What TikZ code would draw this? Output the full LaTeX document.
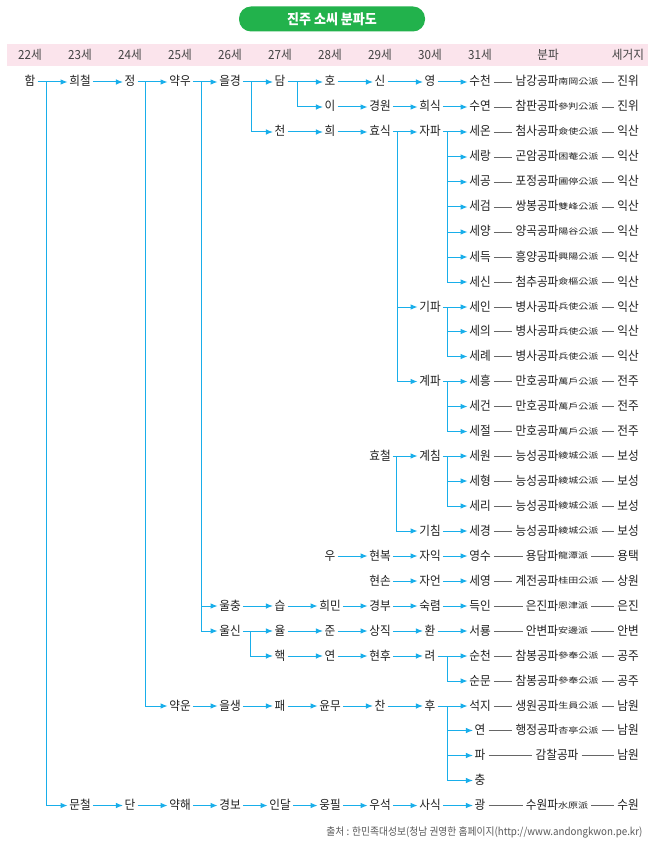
\documentclass[tikz,border=0pt]{standalone}
\usepackage{fontspec}
\setmainfont[FakeStretch=0.93]{Noto Sans CJK KR}
\newfontfamily\hanjafont[FakeStretch=1.25]{Noto Sans CJK KR}
\usepackage{tikz}
\usetikzlibrary{arrows, arrows.meta}
\definecolor{sky}{HTML}{18AEEA}
\definecolor{ink}{HTML}{222222}
\definecolor{band}{HTML}{FBE4EC}
\definecolor{leaf}{HTML}{22B24C}
\definecolor{rulegray}{HTML}{666666}
\newcommand{\hj}[1]{\raisebox{1.5pt}{\hanjafont\fontsize{8}{9}\selectfont #1}}
\tikzstyle{person} = [inner xsep=1.5pt, inner ysep=1pt, text height=10pt, text depth=2pt, text=ink]
\tikzstyle{head} = [text=ink!85]
\tikzstyle{arrow} = [line width=1pt, draw=sky, ->, >={Latex[length=7pt,width=5.5pt]}, shorten <=0.5pt]
\tikzstyle{link} = [line width=0.7pt, draw=rulegray, shorten <=1.5pt, shorten >=1.5pt]

\begin{document}
\begin{tikzpicture}[x=1pt, y=-1pt, node distance=50pt, font=\fontsize{12.5}{14}\selectfont]
\fill[white] (0,0) rectangle (650,850);
\useasboundingbox (0,0) rectangle (650,850);
\node (title) [fill=leaf, rounded corners=12pt, minimum width=186pt, minimum height=25pt, text=white, font=\fontsize{14}{16}\selectfont\bfseries] at (332,19) {진주 소씨 분파도};
\fill[band] (7,44) rectangle (648,66);
\node (g22) [head] at (30,55) {22세};
\node (g23) [head, right of=g22] {23세};
\node (g24) [head, right of=g23] {24세};
\node (g25) [head, right of=g24] {25세};
\node (g26) [head, right of=g25] {26세};
\node (g27) [head, right of=g26] {27세};
\node (g28) [head, right of=g27] {28세};
\node (g29) [head, right of=g28] {29세};
\node (g30) [head, right of=g29] {30세};
\node (g31) [head, right of=g30] {31세};
\node (gpa) [head] at (548,55) {분파};
\node (gji) [head] at (628,55) {세거지};

\node (ham) [person] at (30,82) {함};
\node (huicheol) [person, right of=ham] {희철};
\node (jeong) [person, right of=huicheol] {정};
\node (akwoo) [person, right of=jeong] {약우};
\node (eulgyeong) [person, right of=akwoo] {을경};
\node (dam) [person, right of=eulgyeong] {담};
\node (ho) [person, right of=dam] {호};
\node (sin) [person, right of=ho] {신};
\node (yeong) [person, right of=sin] {영};
\node (sucheon) [person, right of=yeong] {수천};
\node (pa0) [person, right of=sucheon, xshift=27pt] {남강공파\hj{南岡公派}};
\node (ji0) [person, right of=pa0, xshift=21pt] {진위};

\node (yi) [person] at (330,107) {이};
\node (gyeongwon) [person, right of=yi] {경원};
\node (huisik) [person, right of=gyeongwon] {희식};
\node (suyeon) [person, right of=huisik] {수연};
\node (pa1) [person, right of=suyeon, xshift=27pt] {참판공파\hj{參判公派}};
\node (ji1) [person, right of=pa1, xshift=21pt] {진위};

\node (cheon) [person] at (280,132) {천};
\node (hui) [person, right of=cheon] {희};
\node (hyosik) [person, right of=hui] {효식};
\node (japa) [person, right of=hyosik] {자파};
\node (seon) [person, right of=japa] {세온};
\node (pa2) [person, right of=seon, xshift=27pt] {첨사공파\hj{僉使公派}};
\node (ji2) [person, right of=pa2, xshift=21pt] {익산};

\node (serang) [person] at (480,157) {세랑};
\node (pa3) [person, right of=serang, xshift=27pt] {곤암공파\hj{困菴公派}};
\node (ji3) [person, right of=pa3, xshift=21pt] {익산};
\node (segong) [person] at (480,182) {세공};
\node (pa4) [person, right of=segong, xshift=27pt] {포정공파\hj{圃停公派}};
\node (ji4) [person, right of=pa4, xshift=21pt] {익산};
\node (segeom) [person] at (480,207) {세검};
\node (pa5) [person, right of=segeom, xshift=27pt] {쌍봉공파\hj{雙峰公派}};
\node (ji5) [person, right of=pa5, xshift=21pt] {익산};
\node (seyang) [person] at (480,232) {세양};
\node (pa6) [person, right of=seyang, xshift=27pt] {양곡공파\hj{陽谷公派}};
\node (ji6) [person, right of=pa6, xshift=21pt] {익산};
\node (sedeuk) [person] at (480,257) {세득};
\node (pa7) [person, right of=sedeuk, xshift=27pt] {흥양공파\hj{興陽公派}};
\node (ji7) [person, right of=pa7, xshift=21pt] {익산};
\node (sesin) [person] at (480,282) {세신};
\node (pa8) [person, right of=sesin, xshift=27pt] {첨추공파\hj{僉樞公派}};
\node (ji8) [person, right of=pa8, xshift=21pt] {익산};

\node (gipa) [person] at (430,307) {기파};
\node (sein) [person, right of=gipa] {세인};
\node (pa9) [person, right of=sein, xshift=27pt] {병사공파\hj{兵使公派}};
\node (ji9) [person, right of=pa9, xshift=21pt] {익산};
\node (seui) [person] at (480,331.5) {세의};
\node (pa10) [person, right of=seui, xshift=27pt] {병사공파\hj{兵使公派}};
\node (ji10) [person, right of=pa10, xshift=21pt] {익산};
\node (serye) [person] at (480,356.5) {세례};
\node (pa11) [person, right of=serye, xshift=27pt] {병사공파\hj{兵使公派}};
\node (ji11) [person, right of=pa11, xshift=21pt] {익산};

\node (gyepa) [person] at (430,381.5) {계파};
\node (seheung) [person, right of=gyepa] {세흥};
\node (pa12) [person, right of=seheung, xshift=27pt] {만호공파\hj{萬戶公派}};
\node (ji12) [person, right of=pa12, xshift=21pt] {전주};
\node (segeon) [person] at (480,406.5) {세건};
\node (pa13) [person, right of=segeon, xshift=27pt] {만호공파\hj{萬戶公派}};
\node (ji13) [person, right of=pa13, xshift=21pt] {전주};
\node (sejeol) [person] at (480,431.5) {세절};
\node (pa14) [person, right of=sejeol, xshift=27pt] {만호공파\hj{萬戶公派}};
\node (ji14) [person, right of=pa14, xshift=21pt] {전주};

\node (hyocheol) [person] at (380,456) {효철};
\node (gyechim) [person, right of=hyocheol] {계침};
\node (sewon) [person, right of=gyechim] {세원};
\node (pa15) [person, right of=sewon, xshift=27pt] {능성공파\hj{綾城公派}};
\node (ji15) [person, right of=pa15, xshift=21pt] {보성};
\node (sehyeong) [person] at (480,481) {세형};
\node (pa16) [person, right of=sehyeong, xshift=27pt] {능성공파\hj{綾城公派}};
\node (ji16) [person, right of=pa16, xshift=21pt] {보성};
\node (seri) [person] at (480,506) {세리};
\node (pa17) [person, right of=seri, xshift=27pt] {능성공파\hj{綾城公派}};
\node (ji17) [person, right of=pa17, xshift=21pt] {보성};
\node (gichim) [person] at (430,531) {기침};
\node (segyeong) [person, right of=gichim] {세경};
\node (pa18) [person, right of=segyeong, xshift=27pt] {능성공파\hj{綾城公派}};
\node (ji18) [person, right of=pa18, xshift=21pt] {보성};

\node (u) [person] at (330,556) {우};
\node (hyeonbok) [person, right of=u] {현복};
\node (jaik) [person, right of=hyeonbok] {자익};
\node (yeongsu) [person, right of=jaik] {영수};
\node (pa19) [person, right of=yeongsu, xshift=27pt] {용담파\hj{龍潭派}};
\node (ji19) [person, right of=pa19, xshift=21pt] {용택};

\node (hyeonson) [person] at (380,581) {현손};
\node (jaeon) [person, right of=hyeonson] {자언};
\node (seyeong) [person, right of=jaeon] {세영};
\node (pa20) [person, right of=seyeong, xshift=27pt] {계전공파\hj{桂田公派}};
\node (ji20) [person, right of=pa20, xshift=21pt] {상원};

\node (ulchung) [person] at (230,606) {울충};
\node (seup) [person, right of=ulchung] {습};
\node (huimin) [person, right of=seup] {희민};
\node (gyeongbu) [person, right of=huimin] {경부};
\node (sukryeom) [person, right of=gyeongbu] {숙렴};
\node (deugin) [person, right of=sukryeom] {득인};
\node (pa21) [person, right of=deugin, xshift=27pt] {은진파\hj{恩津派}};
\node (ji21) [person, right of=pa21, xshift=21pt] {은진};

\node (ulsin) [person] at (230,631) {울신};
\node (yul) [person, right of=ulsin] {율};
\node (jun) [person, right of=yul] {준};
\node (sangjik) [person, right of=jun] {상직};
\node (hwan) [person, right of=sangjik] {환};
\node (seoryong) [person, right of=hwan] {서룡};
\node (pa22) [person, right of=seoryong, xshift=27pt] {안변파\hj{安邊派}};
\node (ji22) [person, right of=pa22, xshift=21pt] {안변};

\node (haek) [person] at (280,656) {핵};
\node (yeon) [person, right of=haek] {연};
\node (hyeonhu) [person, right of=yeon] {현후};
\node (ryeo) [person, right of=hyeonhu] {려};
\node (suncheon) [person, right of=ryeo] {순천};
\node (pa23) [person, right of=suncheon, xshift=27pt] {참봉공파\hj{參奉公派}};
\node (ji23) [person, right of=pa23, xshift=21pt] {공주};
\node (sunmun) [person] at (480,681) {순문};
\node (pa24) [person, right of=sunmun, xshift=27pt] {참봉공파\hj{參奉公派}};
\node (ji24) [person, right of=pa24, xshift=21pt] {공주};

\node (akun) [person] at (180,706) {약운};
\node (eulsaeng) [person, right of=akun] {을생};
\node (pae) [person, right of=eulsaeng] {패};
\node (yunmu) [person, right of=pae] {윤무};
\node (chan) [person, right of=yunmu] {찬};
\node (hu) [person, right of=chan] {후};
\node (seokji) [person, right of=hu] {석지};
\node (pa25) [person, right of=seokji, xshift=27pt] {생원공파\hj{生員公派}};
\node (ji25) [person, right of=pa25, xshift=21pt] {남원};
\node (yeon2) [person] at (480,730.5) {연};
\node (pa26) [person, right of=yeon2, xshift=27pt] {행정공파\hj{杏亭公派}};
\node (ji26) [person, right of=pa26, xshift=21pt] {남원};
\node (pa) [person] at (480,755.5) {파};
\node (pa27) [person, right of=pa, xshift=27pt] {감찰공파};
\node (ji27) [person, right of=pa27, xshift=21pt] {남원};
\node (chung) [person] at (480,780.5) {충};

\node (muncheol) [person] at (80,805.5) {문철};
\node (dan) [person, right of=muncheol] {단};
\node (akhae) [person, right of=dan] {약해};
\node (gyeongbo) [person, right of=akhae] {경보};
\node (indal) [person, right of=gyeongbo] {인달};
\node (ungpil) [person, right of=indal] {웅필};
\node (useok) [person, right of=ungpil] {우석};
\node (sasik) [person, right of=useok] {사식};
\node (gwang) [person, right of=sasik] {광};
\node (pa29) [person, right of=gwang, xshift=27pt] {수원파\hj{水原派}};
\node (ji29) [person, right of=pa29, xshift=21pt] {수원};

\node (source) [anchor=east, text=ink!75, font=\fontsize{10.5}{12}\selectfont] at (646,832) {출처 : 한민족대성보(청남 권영한 홈페이지(http://www.andongkwon.pe.kr)};

\draw [arrow] (ham) -- (huicheol);
\draw [arrow] (huicheol) -- (jeong);
\draw [arrow] (jeong) -- (akwoo);
\draw [arrow] (akwoo) -- (eulgyeong);
\draw [arrow] (eulgyeong) -- (dam);
\draw [arrow] (dam) -- (ho);
\draw [arrow] (ho) -- (sin);
\draw [arrow] (sin) -- (yeong);
\draw [arrow] (yeong) -- (sucheon);
\draw [arrow] ([xshift=16pt]ham.center) |- (muncheol);
\draw [arrow] ([xshift=15pt]jeong.center) |- (akun);
\draw [arrow] ([xshift=21pt]akwoo.center) |- (ulchung);
\draw [arrow] ([xshift=21pt]akwoo.center) |- (ulsin);
\draw [arrow] ([xshift=21pt]eulgyeong.center) |- (cheon);
\draw [arrow] ([xshift=17pt]dam.center) |- (yi);

\draw [arrow] (yi) -- (gyeongwon);
\draw [arrow] (gyeongwon) -- (huisik);
\draw [arrow] (huisik) -- (suyeon);

\draw [arrow] (cheon) -- (hui);
\draw [arrow] (hui) -- (hyosik);
\draw [arrow] (hyosik) -- (japa);
\draw [arrow] (japa) -- (seon);
\draw [arrow] ([xshift=17pt]hyosik.center) |- (gipa);
\draw [arrow] ([xshift=17pt]hyosik.center) |- (gyepa);
\draw [arrow] ([xshift=17pt]japa.center) |- (serang);
\draw [arrow] ([xshift=17pt]japa.center) |- (segong);
\draw [arrow] ([xshift=17pt]japa.center) |- (segeom);
\draw [arrow] ([xshift=17pt]japa.center) |- (seyang);
\draw [arrow] ([xshift=17pt]japa.center) |- (sedeuk);
\draw [arrow] ([xshift=17pt]japa.center) |- (sesin);

\draw [arrow] (gipa) -- (sein);
\draw [arrow] ([xshift=17pt]gipa.center) |- (seui);
\draw [arrow] ([xshift=17pt]gipa.center) |- (serye);
\draw [arrow] (gyepa) -- (seheung);
\draw [arrow] ([xshift=17pt]gyepa.center) |- (segeon);
\draw [arrow] ([xshift=17pt]gyepa.center) |- (sejeol);

\draw [arrow] (hyocheol) -- (gyechim);
\draw [arrow] (gyechim) -- (sewon);
\draw [arrow] ([xshift=16pt]hyocheol.center) |- (gichim);
\draw [arrow] ([xshift=17pt]gyechim.center) |- (sehyeong);
\draw [arrow] ([xshift=17pt]gyechim.center) |- (seri);
\draw [arrow] (gichim) -- (segyeong);

\draw [arrow] (u) -- (hyeonbok);
\draw [arrow] (hyeonbok) -- (jaik);
\draw [arrow] (jaik) -- (yeongsu);
\draw [arrow] (hyeonson) -- (jaeon);
\draw [arrow] (jaeon) -- (seyeong);

\draw [arrow] (ulchung) -- (seup);
\draw [arrow] (seup) -- (huimin);
\draw [arrow] (huimin) -- (gyeongbu);
\draw [arrow] (gyeongbu) -- (sukryeom);
\draw [arrow] (sukryeom) -- (deugin);
\draw [arrow] (ulsin) -- (yul);
\draw [arrow] (yul) -- (jun);
\draw [arrow] (jun) -- (sangjik);
\draw [arrow] (sangjik) -- (hwan);
\draw [arrow] (hwan) -- (seoryong);
\draw [arrow] ([xshift=20pt]ulsin.center) |- (haek);
\draw [arrow] (haek) -- (yeon);
\draw [arrow] (yeon) -- (hyeonhu);
\draw [arrow] (hyeonhu) -- (ryeo);
\draw [arrow] (ryeo) -- (suncheon);
\draw [arrow] ([xshift=17pt]ryeo.center) |- (sunmun);

\draw [arrow] (akun) -- (eulsaeng);
\draw [arrow] (eulsaeng) -- (pae);
\draw [arrow] (pae) -- (yunmu);
\draw [arrow] (yunmu) -- (chan);
\draw [arrow] (chan) -- (hu);
\draw [arrow] (hu) -- (seokji);
\draw [arrow] ([xshift=17pt]hu.center) |- (yeon2);
\draw [arrow] ([xshift=17pt]hu.center) |- (pa);
\draw [arrow] ([xshift=17pt]hu.center) |- (chung);

\draw [arrow] (muncheol) -- (dan);
\draw [arrow] (dan) -- (akhae);
\draw [arrow] (akhae) -- (gyeongbo);
\draw [arrow] (gyeongbo) -- (indal);
\draw [arrow] (indal) -- (ungpil);
\draw [arrow] (ungpil) -- (useok);
\draw [arrow] (useok) -- (sasik);
\draw [arrow] (sasik) -- (gwang);

\draw [link] (sucheon) -- (pa0);
\draw [link] (pa0) -- (ji0);
\draw [link] (suyeon) -- (pa1);
\draw [link] (pa1) -- (ji1);
\draw [link] (seon) -- (pa2);
\draw [link] (pa2) -- (ji2);
\draw [link] (serang) -- (pa3);
\draw [link] (pa3) -- (ji3);
\draw [link] (segong) -- (pa4);
\draw [link] (pa4) -- (ji4);
\draw [link] (segeom) -- (pa5);
\draw [link] (pa5) -- (ji5);
\draw [link] (seyang) -- (pa6);
\draw [link] (pa6) -- (ji6);
\draw [link] (sedeuk) -- (pa7);
\draw [link] (pa7) -- (ji7);
\draw [link] (sesin) -- (pa8);
\draw [link] (pa8) -- (ji8);
\draw [link] (sein) -- (pa9);
\draw [link] (pa9) -- (ji9);
\draw [link] (seui) -- (pa10);
\draw [link] (pa10) -- (ji10);
\draw [link] (serye) -- (pa11);
\draw [link] (pa11) -- (ji11);
\draw [link] (seheung) -- (pa12);
\draw [link] (pa12) -- (ji12);
\draw [link] (segeon) -- (pa13);
\draw [link] (pa13) -- (ji13);
\draw [link] (sejeol) -- (pa14);
\draw [link] (pa14) -- (ji14);
\draw [link] (sewon) -- (pa15);
\draw [link] (pa15) -- (ji15);
\draw [link] (sehyeong) -- (pa16);
\draw [link] (pa16) -- (ji16);
\draw [link] (seri) -- (pa17);
\draw [link] (pa17) -- (ji17);
\draw [link] (segyeong) -- (pa18);
\draw [link] (pa18) -- (ji18);
\draw [link] (yeongsu) -- (pa19);
\draw [link] (pa19) -- (ji19);
\draw [link] (seyeong) -- (pa20);
\draw [link] (pa20) -- (ji20);
\draw [link] (deugin) -- (pa21);
\draw [link] (pa21) -- (ji21);
\draw [link] (seoryong) -- (pa22);
\draw [link] (pa22) -- (ji22);
\draw [link] (suncheon) -- (pa23);
\draw [link] (pa23) -- (ji23);
\draw [link] (sunmun) -- (pa24);
\draw [link] (pa24) -- (ji24);
\draw [link] (seokji) -- (pa25);
\draw [link] (pa25) -- (ji25);
\draw [link] (yeon2) -- (pa26);
\draw [link] (pa26) -- (ji26);
\draw [link] (pa) -- (pa27);
\draw [link] (pa27) -- (ji27);
\draw [link] (gwang) -- (pa29);
\draw [link] (pa29) -- (ji29);
\end{tikzpicture}
\end{document}
